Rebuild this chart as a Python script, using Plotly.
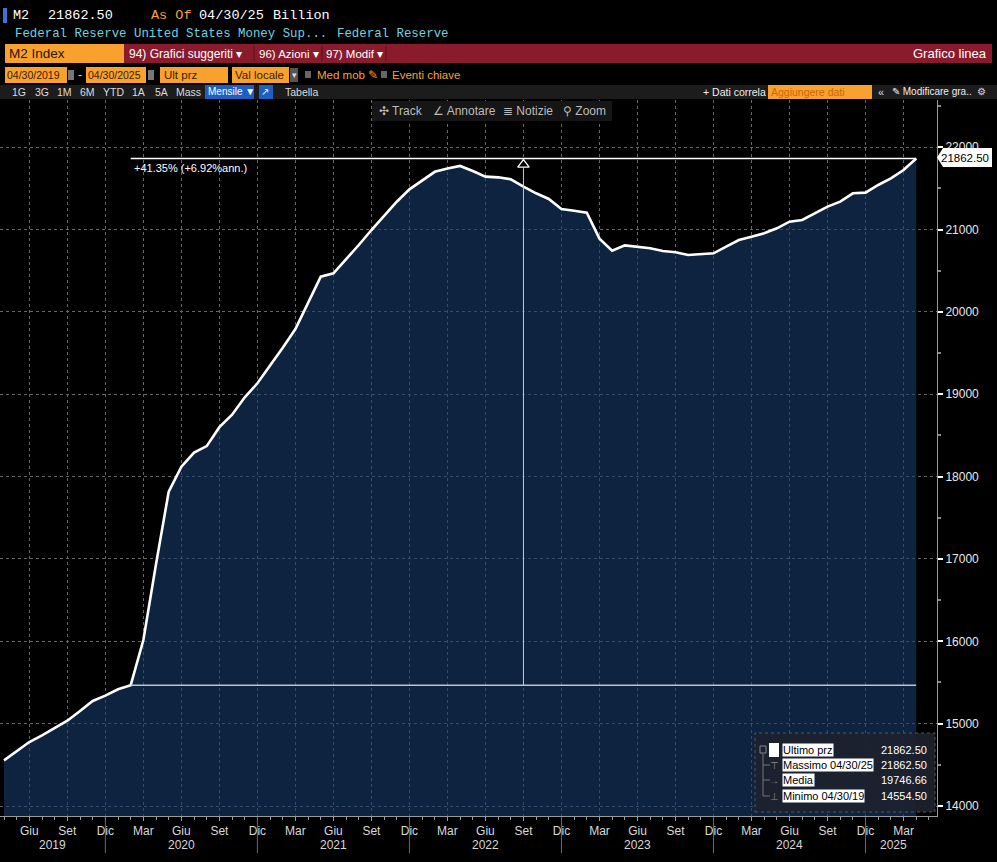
import plotly.graph_objects as go
import pandas as pd

W, H = 997, 862

# ---------------- data ----------------
months = [p.strftime("%Y-%m") for p in pd.period_range("2019-04", "2025-04", freq="M")]
m2_values = [
    14554.5, 14668, 14777, 14858, 14943, 15036, 15154, 15275, 15340,            # 2019-04 .. 2019-12
    15417, 15467, 16016, 16939, 17817, 18121, 18291, 18370, 18600, 18752,      # 2020-01 .. 2020-10
    18963, 19133,                                                              # 2020-11 .. 2020-12
    19347, 19565, 19792, 20104, 20428, 20468, 20638, 20812, 20994, 21164,      # 2021-01 .. 2021-10
    21338, 21488,                                                              # 2021-11 .. 2021-12
    21598, 21701, 21742, 21772, 21711, 21642, 21634, 21610, 21520, 21440,      # 2022-01 .. 2022-10
    21371, 21250,                                                              # 2022-11 .. 2022-12
    21229, 21205, 20889, 20743, 20808, 20792, 20772, 20739, 20725, 20691,      # 2023-01 .. 2023-10
    20703, 20711,                                                              # 2023-11 .. 2023-12
    20792, 20873, 20913, 20954, 21015, 21095, 21116, 21197, 21278, 21338,      # 2024-01 .. 2024-10
    21440, 21448,                                                              # 2024-11 .. 2024-12
    21541, 21622, 21723, 21862.5,                                              # 2025-01 .. 2025-04
]
month_names_it = ["Gen", "Feb", "Mar", "Apr", "Mag", "Giu", "Lug", "Ago", "Set", "Ott", "Nov", "Dic"]
y_ticks = [14000, 15000, 16000, 17000, 18000, 19000, 20000, 21000, 22000]

stat_labels = ["Ultimo prz", "Massimo 04/30/25", "Media", "Minimo 04/30/19"]
stat_values = ["21862.50", "21862.50", "19746.66", "14554.50"]

change_start = "2020-02"
change_mark = "2022-09"
change_text = "+41.35% (+6.92%ann.)"
last_label = "21862.50"

# ---------------- helpers ----------------
idx = list(range(len(months)))
mon = [int(m[5:]) for m in months]
yrs = [int(m[:4]) for m in months]

def fx(x):
    return x / W

def fy(y):
    return 1 - y / H

shapes = []
annotations = []

MONO = "Liberation Mono, DejaVu Sans Mono, monospace"
NARROW = "Liberation Sans Narrow, Arial Narrow, Liberation Sans, Arial, sans-serif"
SANS = "Liberation Sans, Arial, sans-serif"
ORANGE = "#f9a12f"
RED = "#8a1b2d"


def rect(x0, y0, x1, y1, fill, line=None, dash=None, lw=1):
    shapes.append(dict(type="rect", xref="paper", yref="paper",
                       x0=fx(x0), x1=fx(x1), y0=fy(y1), y1=fy(y0),
                       fillcolor=fill,
                       line=dict(color=line or "rgba(0,0,0,0)", width=lw if line else 0, dash=dash),
                       layer="above"))


def txt(x, y, s, color="#ffffff", size=12, family=NARROW, xanchor="left", bg=None, pad=0):
    annotations.append(dict(x=fx(x), y=fy(y), xref="paper", yref="paper", text=s,
                            showarrow=False, xanchor=xanchor, yanchor="middle",
                            font=dict(color=color, size=size, family=family),
                            bgcolor=bg, borderpad=pad))


# ---------------- header rows ----------------
rect(3, 8, 7, 23, "#3d72d9")
txt(12, 15, "M2", "#ffffff", 13.5, MONO)
txt(47, 15, "21862.50", "#ffffff", 13.5, MONO)
txt(150, 15, "As Of", ORANGE, 13.5, MONO)
txt(198, 15, "04/30/25", "#ffffff", 13.5, MONO)
txt(272, 15, "Billion", "#ffffff", 13.5, MONO)
txt(14, 34, "Federal Reserve United States Money Sup...", "#6fd3e3", 12.4, MONO)
txt(336, 34, "Federal Reserve", "#6fd3e3", 12.4, MONO)

# red menu bar
rect(124, 44, 992, 63, RED)
rect(5, 44, 124, 63, ORANGE)
txt(8, 53.5, "M2 Index", "#2a1400", 13.5, NARROW)
txt(128, 53.5, "94) Grafici suggeriti \u25be", "#ffffff", 12, NARROW)
shapes.append(dict(type="line", xref="paper", yref="paper", x0=fx(254), x1=fx(254), y0=fy(46), y1=fy(61),
                   line=dict(color="#5a0f1c", width=1)))
txt(258, 53.5, "96) Azioni \u25be", "#ffffff", 11.5, NARROW)
shapes.append(dict(type="line", xref="paper", yref="paper", x0=fx(322), x1=fx(322), y0=fy(46), y1=fy(61),
                   line=dict(color="#5a0f1c", width=1)))
txt(325, 53.5, "97) Modif \u25be", "#ffffff", 11.5, NARROW)
shapes.append(dict(type="line", xref="paper", yref="paper", x0=fx(386), x1=fx(386), y0=fy(46), y1=fy(61),
                   line=dict(color="#5a0f1c", width=1)))
txt(988, 53.5, "Grafico linea", "#ffffff", 13, NARROW, xanchor="right")

# row with date fields
rect(5, 67, 67, 83, ORANGE)
txt(6, 75, "04/30/2019", "#3a1c00", 10.5, NARROW)
rect(68, 70, 74, 80, "#777777")
txt(77, 75, "-", "#dddddd", 12, NARROW)
rect(86, 67, 146, 83, ORANGE)
txt(87, 75, "04/30/2025", "#3a1c00", 10.5, NARROW)
rect(148, 70, 154, 80, "#777777")
rect(160, 67, 228, 83, ORANGE)
txt(163, 75, "Ult prz", "#3a1c00", 11.5, NARROW)
rect(232, 67, 289, 83, ORANGE)
txt(234, 75, "Val locale", "#3a1c00", 11.5, NARROW)
rect(290, 68, 298, 82, "#555555")
txt(291, 75, "\u25be", "#dddddd", 9, SANS)
rect(305, 71, 311, 78, "#666666")
txt(316, 75, "Med mob \u270e", ORANGE, 11.5, NARROW)
rect(381, 71, 387, 78, "#666666")
txt(391, 75, "Eventi chiave", ORANGE, 11.5, NARROW)

# row with periods
rect(0, 85, 997, 99, "#1c1c1c")
for lab, xx in [("1G", 11), ("3G", 34), ("1M", 56), ("6M", 79), ("YTD", 102),
                ("1A", 131), ("5A", 154), ("Mass", 175)]:
    txt(xx, 92, lab, "#dddddd", 10.5, NARROW)
rect(205, 85, 254, 99, "#1f5fc4")
txt(207, 92, "Mensile \u25bc", "#ffffff", 10, NARROW)
rect(259, 85, 273, 99, "#1f5fc4")
txt(260, 92, "\u2197", "#ffffff", 10, SANS)
txt(284, 92, "Tabella", "#dddddd", 10.5, NARROW)
txt(702, 92, "+ Dati correla", "#eeeeee", 10.5, NARROW)
rect(768, 85, 872, 99, ORANGE)
txt(770, 92, "Aggiungere dati", "#c8670c", 10.5, NARROW)
txt(877, 92, "\u00ab", "#dddddd", 11, SANS)
txt(891, 92, "\u270e Modificare gra..", "#eeeeee", 10, NARROW)
txt(976, 92, "\u2699", "#dddddd", 10, SANS)

# toolbar inside chart
rect(372, 101, 612, 121, "#161616")
txt(378, 111, "\u2723 Track", "#bbbbbb", 12, NARROW)
txt(432, 111, "\u2220 Annotare", "#bbbbbb", 12, NARROW)
txt(502, 111, "\u2263 Notizie", "#bbbbbb", 12, NARROW)
txt(562, 111, "\u26b2 Zoom", "#bbbbbb", 12, NARROW)

# ---------------- x axis ticks ----------------
tick_idx = [i for i in idx if mon[i] in (3, 6, 9, 12)]
tick_txt = [month_names_it[mon[i] - 1] for i in tick_idx]
dec_idx = [i for i in idx if mon[i] == 12]

for i in dec_idx:
    shapes.append(dict(type="line", xref="x", yref="paper", x0=i, x1=i, y0=fy(853), y1=fy(817),
                       line=dict(color="#6a6a6a", width=1), layer="above"))

x_lo, x_hi = -0.316, 73.64
bounds = [x_lo] + dec_idx + [x_hi - 1.2]
years = sorted(set(yrs))
for k, yv in enumerate(years):
    c = (bounds[k] + bounds[k + 1]) / 2
    annotations.append(dict(x=c, y=fy(845), xref="x", yref="paper", text=str(yv), showarrow=False,
                            xanchor="center", yanchor="middle",
                            font=dict(color="#d8d8d8", size=12, family=NARROW)))

# ---------------- change annotation ----------------
i0 = months.index(change_start)
im = months.index(change_mark)
base = m2_values[i0]
last = m2_values[-1]
i_last = len(months) - 1
shapes.append(dict(type="line", xref="x", yref="y", x0=i0, x1=i_last, y0=base, y1=base,
                   line=dict(color="#b8c4d0", width=1.5), layer="above"))
shapes.append(dict(type="line", xref="x", yref="y", x0=i0, x1=i_last, y0=last, y1=last,
                   line=dict(color="#ffffff", width=1.5), layer="above"))
shapes.append(dict(type="line", xref="x", yref="y", x0=im, x1=im, y0=base, y1=last - 120,
                   line=dict(color="#c8c8c8", width=1), layer="above"))
annotations.append(dict(x=i0 + 0.1, y=last, xref="x", yref="y", text=change_text, showarrow=False,
                        xanchor="left", yanchor="top", yshift=-1,
                        font=dict(color="#ffffff", size=11, family=NARROW)))

# ---------------- last price label ----------------
lx0, lx1, ly0, ly1 = 937, 992, 148, 167
path = (f"M {fx(lx0)},{fy((ly0 + ly1) / 2)} L {fx(lx0 + 6)},{fy(ly0)} L {fx(lx1)},{fy(ly0)} "
        f"L {fx(lx1)},{fy(ly1)} L {fx(lx0 + 6)},{fy(ly1)} Z")
shapes.append(dict(type="path", xref="paper", yref="paper", path=path, fillcolor="#ffffff",
                   line=dict(color="#ffffff", width=0), layer="above"))
txt(990, 157.5, last_label, "#000000", 11.5, NARROW, xanchor="right")

# ---------------- stats box ----------------
rect(755, 733, 935, 812, "rgba(28,34,46,0.92)", line="#555555", dash="dot")
row_y = [750, 765, 780, 796]
shapes.append(dict(type="line", xref="paper", yref="paper", x0=fx(763), x1=fx(763), y0=fy(796), y1=fy(754),
                   line=dict(color="#777777", width=1), layer="above"))
rect(760, 746, 766, 753, "rgba(0,0,0,0)", line="#888888")
rect(769, 743, 779, 757, "#ffffff")
glyphs = ["", "\u22a4", "\u2192", "\u22a5"]
for k in range(4):
    if k > 0:
        shapes.append(dict(type="line", xref="paper", yref="paper", x0=fx(763), x1=fx(770),
                           y0=fy(row_y[k]), y1=fy(row_y[k]), line=dict(color="#777777", width=1),
                           layer="above"))
        txt(774, row_y[k], glyphs[k], "#888888", 10, SANS, xanchor="center")
    txt(782, row_y[k], stat_labels[k], "#000000", 11, NARROW, bg="#ffffff")
    txt(928, row_y[k], stat_values[k], "#ffffff", 11, NARROW, xanchor="right")

# ---------------- figure ----------------
fig = go.Figure()
fig.add_trace(go.Scatter(
    x=idx, y=m2_values, mode="lines",
    line=dict(color="#ffffff", width=2.6),
    fill="tozeroy", fillcolor="rgba(23,58,107,0.60)",
    hoverinfo="skip", showlegend=False,
))
fig.add_trace(go.Scatter(
    x=[im], y=[last - 75], mode="markers",
    marker=dict(symbol="triangle-up", size=10, color="#000000", line=dict(color="#ffffff", width=1.3)),
    hoverinfo="skip", showlegend=False,
))

fig.update_layout(
    width=W, height=H,
    margin=dict(l=0, r=0, t=0, b=0),
    paper_bgcolor="#000000",
    plot_bgcolor="#000000",
    showlegend=False,
    shapes=shapes,
    annotations=annotations,
    xaxis=dict(
        domain=[0, 937 / W],
        range=[x_lo, x_hi],
        tickmode="array", tickvals=tick_idx, ticktext=tick_txt,
        ticks="outside", ticklen=4, tickcolor="#9a9a9a",
        minor=dict(dtick=1, tick0=0, ticks="outside", ticklen=3, tickcolor="#9a9a9a", showgrid=False),
        showgrid=True, gridcolor="#666666", griddash="dot", gridwidth=1,
        showline=True, linecolor="#9a9a9a", linewidth=1,
        zeroline=False,
        tickfont=dict(color="#d8d8d8", size=12, family=NARROW),
    ),
    yaxis=dict(
        domain=[1 - 816 / H, 1 - 100 / H],
        range=[13878.6, 22573],
        side="right",
        tickmode="array", tickvals=y_ticks, ticktext=[str(v) for v in y_ticks],
        ticks="outside", ticklen=5, tickwidth=2, tickcolor="#ffffff",
        minor=dict(dtick=500, tick0=14000, ticks="outside", ticklen=3, tickcolor="#888888", showgrid=False),
        showgrid=True, gridcolor="#666666", griddash="dot", gridwidth=1,
        showline=True, linecolor="#9a9a9a", linewidth=1,
        zeroline=False,
        tickfont=dict(color="#e8e8e8", size=12, family=NARROW),
    ),
)

fig.write_html("out.html")
